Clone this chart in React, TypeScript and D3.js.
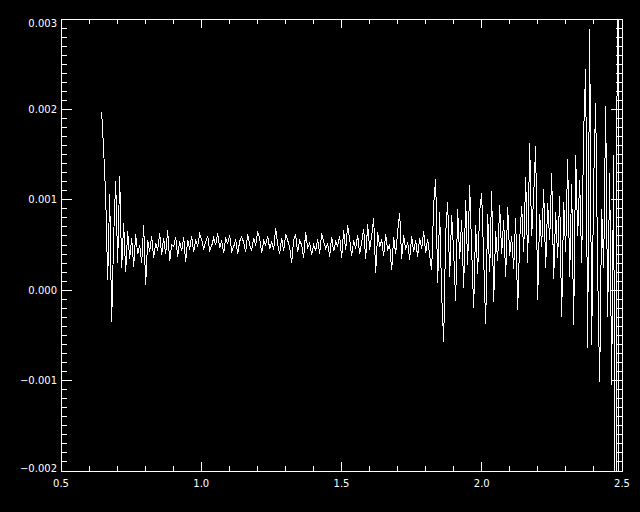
import React from 'react'
import * as d3 from 'd3'

// signal values in units of 1e-4, sampled on a uniform grid starting at X0
const UNIT = 1e-4
const X0 = 0.645
const DX = 0.00713

const startBurst = [19.7, 15.4, 10.5, 1.1, 10.6, -3.5, 6.0, 12.1, 3.0, 12.6]
const earlyDecay = [
  2.5, 7.4, 2.0, 6.5, 3.5, 5.8, 2.6, 6.2, 4.0, 5.0,
  3.0, 7.2, 0.6, 5.5, 4.2, 6.0, 3.6, 5.2, 4.4, 6.3,
  3.9, 5.8, 4.0, 6.6, 3.2, 5.0, 4.8, 5.9, 3.7, 5.4,
]
const quietBand = [
  4.3, 5.9, 3.1, 5.6, 4.5, 6.0, 4.2, 5.5, 4.9,
  6.2, 5.6, 4.6, 5.3, 6.0, 4.4, 4.9, 5.8, 5.0, 6.3,
  4.7, 5.5, 4.1, 5.7, 5.2, 6.1, 4.3, 4.8, 5.6,
  4.0, 5.4, 5.9, 5.3, 4.2, 6.2, 5.0, 4.4, 5.8, 4.9,
  6.5, 5.7, 4.1, 5.5, 5.0, 6.0, 4.6, 5.3, 4.5, 6.9,
  5.1, 4.0, 5.8, 4.3, 6.2, 5.5, 4.8, 3.0, 5.6,
  6.1, 4.2, 5.5, 5.0, 3.6, 6.4, 4.7, 5.2, 3.9, 5.0,
]
const midBand = [
  4.4, 5.6, 4.0, 6.3, 5.4, 4.6, 5.2, 3.7, 5.9, 4.3,
  5.4, 4.9, 6.0, 3.6, 6.6, 4.4, 7.2, 5.6, 3.8, 5.5,
  4.6, 6.1, 4.0, 5.3, 6.8, 3.5, 7.3, 4.5, 6.0, 8.0,
  1.9, 6.4, 4.8, 5.6, 3.8, 6.2, 4.4, 5.1, 2.2, 5.9,
  4.0, 6.5, 8.5, 3.5, 6.1, 4.5, 5.3, 3.4, 6.0, 4.2,
  5.5, 3.7, 5.8, 4.6, 6.5, 4.1, 5.7, 3.8, 2.2, 9.5,
]
const noisyTail = [
  12.3, 0.8, 8.6, -0.5, -5.7, 6.3, 9.8, 1.5, 8.3, 4.2,
  -1.2, 9.0, 3.5, 7.8, 0.2, 10.0, 2.8, 11.6, 4.5, -2.0,
  7.2, 1.8, 8.8, 10.7, 3.5, -3.7, 8.4, 2.0, 11.0, -1.3,
  6.5, 3.2, 9.4, 4.0, 7.8, 1.5, 9.2, 3.8, 6.0, 2.4,
  8.0, -2.2, 5.5, 9.3, 4.2, 12.5, 3.0, 16.3, 6.0, 10.5,
  15.9, -1.1, 8.4, 4.8, 11.2, 2.5, 9.6, 5.5, 13.0, 1.2,
  8.7, 3.6, 10.4, -3.0, 9.8, 4.2, 14.5, 1.5, 11.8, -3.9,
  15.0, 6.0, 12.2, 3.0, 17.5, 24.5, -6.4, 28.9, -6.1, 12.0,
  20.7, 2.0, -10.2, 9.0, 2.5, 20.4, -3.0, 13.0, -10.5, 15.0,
  -60, 60, -60,
]

const values = [...startBurst, ...earlyDecay, ...quietBand, ...midBand, ...noisyTail]

const xDomain: [number, number] = [0.5, 2.5]
const yDomain: [number, number] = [-0.002, 0.003]

export default function App() {
  const width = 640
  const height = 512
  const m = { l: 61, r: 18, t: 19, b: 41 }
  const x = d3.scaleLinear().domain(xDomain).range([m.l, width - m.r])
  const y = d3.scaleLinear().domain(yDomain).range([height - m.b, m.t])

  const pts = values.map((v, i) => [X0 + i * DX, v * UNIT] as [number, number])
  const line = d3.line<[number, number]>().x(d => x(d[0])).y(d => y(d[1]))

  const x0 = m.l, x1 = width - m.r, y0 = height - m.b, y1 = m.t
  const xMajor = x.ticks(4)
  const xMinor = x.ticks(20)
  const yMajor = y.ticks(5)
  const yMinor = y.ticks(50)
  const isMajorX = (t: number) => xMajor.some(v => Math.abs(v - t) < 1e-9)
  const isMajorY = (t: number) => yMajor.some(v => Math.abs(v - t) < 1e-12)
  const fy = d3.format('.3f')
  const fx = d3.format('.1f')
  const font = { fontFamily: 'DejaVu Sans', fontSize: 10, fill: '#fff' }

  return (
    <svg width={width} height={height} style={{ position: 'absolute', left: 0, top: 0, background: '#000' }}>
      <rect width={width} height={height} fill="#000" />
      <defs>
        <clipPath id="plot">
          <rect x={x0} y={y1} width={x1 - x0} height={y0 - y1} />
        </clipPath>
      </defs>
      <path d={line(pts) || ''} fill="none" stroke="#fff" strokeWidth={1} shapeRendering="crispEdges" clipPath="url(#plot)" />
      <g stroke="#fff" strokeWidth={1} shapeRendering="crispEdges">
        <rect x={x0} y={y1} width={x1 - x0} height={y0 - y1} fill="none" />
        {xMinor.map(t => {
          const len = isMajorX(t) ? 9 : 5
          return (
            <g key={'x' + t}>
              <line x1={x(t)} x2={x(t)} y1={y0} y2={y0 - len} />
              <line x1={x(t)} x2={x(t)} y1={y1} y2={y1 + len} />
            </g>
          )
        })}
        {yMinor.map(t => {
          const len = isMajorY(t) ? 11 : 6
          return (
            <g key={'y' + t}>
              <line x1={x0} x2={x0 + len} y1={y(t)} y2={y(t)} />
              <line x1={x1} x2={x1 - len} y1={y(t)} y2={y(t)} />
            </g>
          )
        })}
      </g>
      {xMajor.map(t => (
        <text key={'xl' + t} x={x(t)} y={y0 + 16} textAnchor="middle" {...font}>{fx(t)}</text>
      ))}
      {yMajor.map(t => (
        <text key={'yl' + t} x={x0 - 4} y={Math.min(Math.max(y(t), y1 + 4), y0 - 3)} dy="0.35em" textAnchor="end" {...font}>
          {fy(t)}
        </text>
      ))}
    </svg>
  )
}
